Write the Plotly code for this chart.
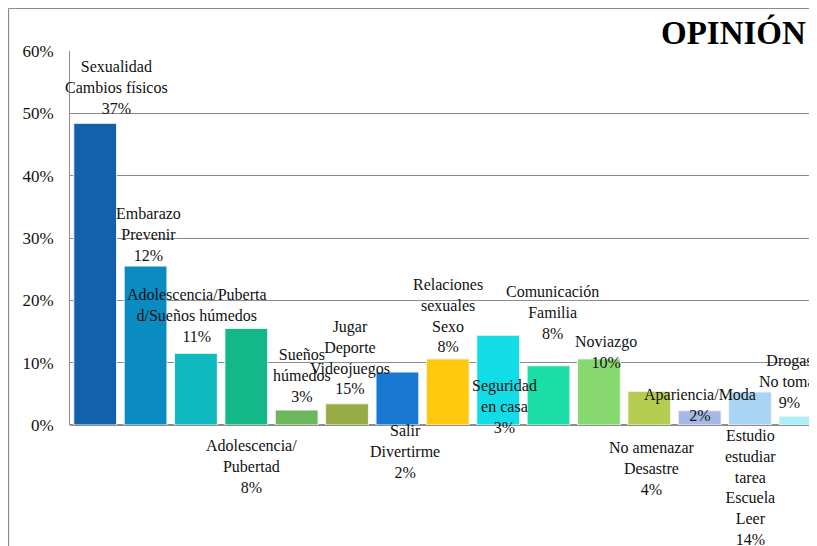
import plotly.graph_objects as go

categories = ["Sexualidad", "Embarazo", "Adolescencia/Sueños", "Adolescencia", "Sueños húmedos",
              "Jugar", "Salir", "Relaciones sexuales", "Seguridad", "Comunicación",
              "Noviazgo", "No amenazar", "Apariencia/Moda", "Estudio", "Drogas"]
values = [48.4, 25.5, 11.5, 15.5, 2.4, 3.4, 8.5, 10.6, 14.4, 9.5, 10.6, 5.4, 2.3, 5.3, 1.4]
labels = ["Sexualidad<br>Cambios físicos<br>37%",
          "Embarazo<br>Prevenir<br>12%",
          "Adolescencia/Puberta<br>d/Sueños húmedos<br>11%",
          "Adolescencia/<br>Pubertad<br>8%",
          "Sueños<br>húmedos<br>3%",
          "Jugar<br>Deporte<br>Videojuegos<br>15%",
          "Salir<br>Divertirme<br>2%",
          "Relaciones<br>sexuales<br>Sexo<br>8%",
          "Seguridad<br>en casa<br>3%",
          "Comunicación<br>Familia<br>8%",
          "Noviazgo<br>10%",
          "No amenazar<br>Desastre<br>4%",
          "Apariencia/Moda<br>2%",
          "Estudio<br>estudiar<br>tarea<br>Escuela<br>Leer<br>14%",
          "Drogas<br>No tomar<br>9%"]
tick_values = [0, 10, 20, 30, 40, 50, 60]
tick_text = ["0%", "10%", "20%", "30%", "40%", "50%", "60%"]

colors = ["#1461AB", "#0A8CC2", "#10B8C0", "#14B888", "#6CB65C", "#98AC46", "#1878D2",
          "#FFC90E", "#12DCE6", "#1CDCA8", "#88D870", "#B4CC50", "#A6B8E6", "#AAD4F4", "#AAF0F4"]

# label placement (category offset, y in % units of the axis)
label_x = [0.42, 1.05, 2.03, 3.1, 4.1, 5.05, 6.15, 7.0, 8.13, 9.07, 10.14, 11.05, 12.0, 13.0, 13.8]
label_y = [54.2, 30.5, 17.5, -6.7, 8.0, 10.9, -4.3, 17.6, 3.0, 18.0, 11.7, -7.0, 3.2, -10.1, 7.0]

Y_MAX = 60
SERIF = "Liberation Serif, Times New Roman, serif"

fig = go.Figure()
fig.add_trace(go.Bar(
    x=list(range(len(categories))), y=values,
    marker=dict(color=colors, line=dict(color="#F4F4F4", width=1)),
    width=0.85, hoverinfo="skip", cliponaxis=True,
))

for lx, ly, t in zip(label_x, label_y, labels):
    fig.add_annotation(x=lx, y=ly / Y_MAX, text=t, showarrow=False, xref="x", yref="paper",
                       font=dict(family=SERIF, size=16, color="#111"),
                       align="center", xanchor="center", yanchor="middle")

fig.add_annotation(x=1.0, y=1.0, xref="paper", yref="paper", xanchor="right", yanchor="middle",
                   xshift=-9, yshift=19, text="<b>OPINIÓN</b>", showarrow=False,
                   font=dict(family=SERIF, size=33, color="#000"))

# outer frame
fig.add_shape(type="line", xref="paper", yref="paper", x0=-0.0823, x1=1.02, y0=1.1137, y1=1.1137,
              line=dict(color="#8C8C8C", width=1.2))
fig.add_shape(type="line", xref="paper", yref="paper", x0=-0.0823, x1=-0.0823, y0=1.1137, y1=-0.33,
              line=dict(color="#8C8C8C", width=1.2))

fig.update_layout(
    width=809, height=538,
    margin=dict(l=62, r=0, t=43, b=121),
    plot_bgcolor="white", paper_bgcolor="white",
    showlegend=False, bargap=0.15,
    xaxis=dict(range=[-0.5, 14.33], showticklabels=False, showgrid=False, zeroline=False,
               showline=False, ticks=""),
    yaxis=dict(range=[0, Y_MAX], tickmode="array", tickvals=tick_values, ticktext=tick_text,
               showgrid=True, gridcolor="#8C8C8C", gridwidth=1, showline=True, linecolor="#8C8C8C",
               zeroline=True, zerolinecolor="#8C8C8C", ticks="", ticklabelstandoff=12,
               tickfont=dict(family=SERIF, size=17, color="#111")),
)

fig.write_html("out.html")
